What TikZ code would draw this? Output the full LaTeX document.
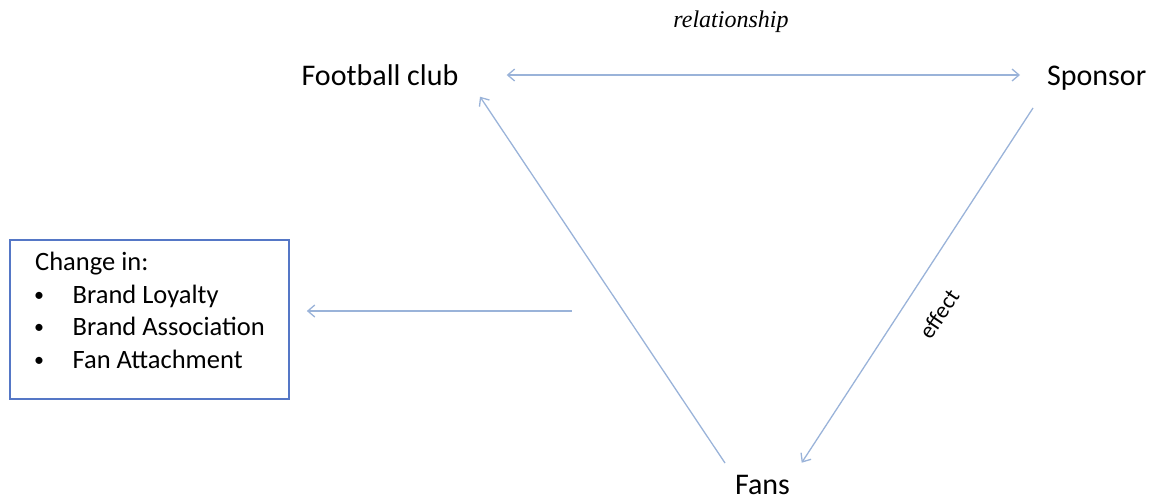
\documentclass[tikz,border=0pt]{standalone}
\usepackage{fontspec}
\setmainfont{Carlito}
\newfontfamily\relfont{Liberation Serif}
\usetikzlibrary{arrows.meta,calc}
\definecolor{conn}{HTML}{9AB3D9}
\definecolor{boxblue}{HTML}{5577C6}
\tikzset{
  lbl/.style={inner sep=0pt, anchor=base, font=\fontsize{30}{36}\selectfont, text=black},
  boxtxt/.style={inner sep=0pt, anchor=base west, font=\fontsize{26.5}{32}\selectfont, text=black},
  bul/.style={inner sep=0pt, anchor=base west, font=\fontsize{20}{24}\selectfont, text=black},
  link/.style={draw=conn, line width=1.3pt, -{Straight Barb[length=7pt,width=12pt]}},
  dlink/.style={draw=conn, line width=1.3pt, {Straight Barb[length=7pt,width=12pt]}-{Straight Barb[length=7pt,width=12pt]}},
  boxstyle/.style={draw=boxblue, line width=2pt, minimum width=278.5pt, minimum height=158.7pt, inner sep=0pt}
}
\begin{document}
\begin{tikzpicture}[x=1pt,y=-1pt]
\useasboundingbox (0,0) rectangle (1153,499);
\node[inner sep=0pt, anchor=base, font=\relfont\itshape\fontsize{24}{29}\selectfont] (rel) at (731,27) {relationship};
\node[lbl] (club) at (380,85) {Football club};
\node[lbl] (sponsor) at (1096.7,85) {Sponsor};
\node[lbl] (fans) at (762.5,494) {Fans};
\node[boxstyle, anchor=north west] (box) at (9.3,239) {};
\node[boxtxt] (t0) at (35,270) {Change in:};
\node[bul] (b1) at (34,301) {•};
\node[boxtxt] (t1) at (72.5,303) {Brand Loyalty};
\node[bul] (b2) at (34,333) {•};
\node[boxtxt] (t2) at (72.5,335) {Brand Association};
\node[bul] (b3) at (34,366) {•};
\node[boxtxt] (t3) at (72.5,368) {Fan Attachment};
\node[inner sep=0pt, rotate=56, font=\fontsize{23}{27}\selectfont] (eff) at (939,314) {effect};
\coordinate (src) at (571.7,311);
\draw[dlink] ($(club.base)+(126.7,-10)$) -- ($(sponsor.base)+(-76.7,-10)$);
\draw[link] ($(fans.base)+(-37.5,-31)$) -- ($(club.base)+(100,11.7)$);
\draw[link] ($(sponsor.base)+(-63.7,23)$) -- ($(fans.base)+(39.2,-31.3)$);
\draw[link] (src) -- ($(box.east |- src)+(17,0)$);
\end{tikzpicture}
\end{document}
